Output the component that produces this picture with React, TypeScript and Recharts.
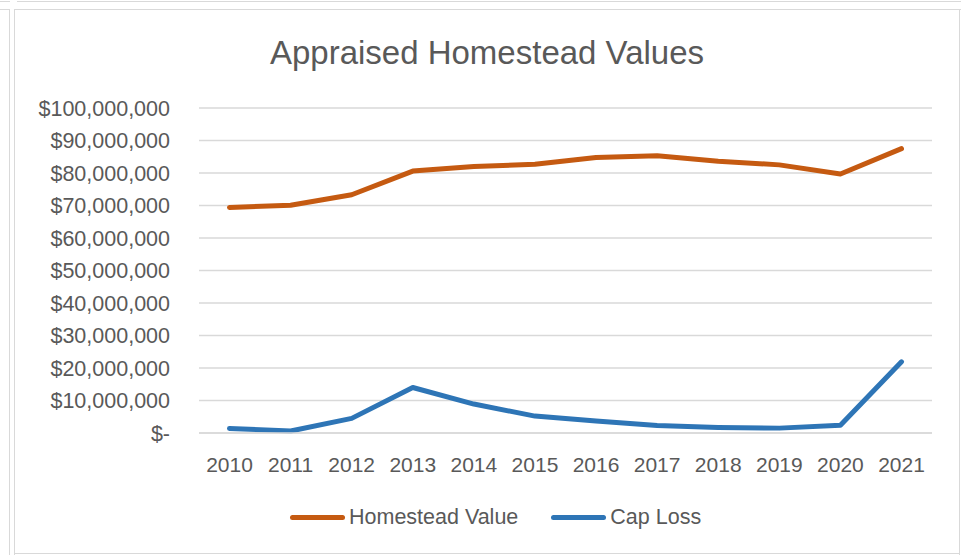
import {
  LineChart,
  Line,
  XAxis,
  YAxis,
  CartesianGrid,
} from "recharts"

const years = ["2010", "2011", "2012", "2013", "2014", "2015", "2016", "2017", "2018", "2019", "2020", "2021"]
const homesteadValue = [
  69400000, 70100000, 73300000, 80600000, 82000000, 82700000,
  84800000, 85300000, 83600000, 82500000, 79700000, 87500000,
]
const capLoss = [
  1400000, 600000, 4500000, 14000000, 8900000, 5200000,
  3700000, 2300000, 1700000, 1500000, 2400000, 21900000,
]
const yTicks = [0, 10000000, 20000000, 30000000, 40000000, 50000000, 60000000, 70000000, 80000000, 90000000, 100000000]

const series = [
  { key: "homestead", name: "Homestead Value", color: "#C55A11" },
  { key: "capLoss", name: "Cap Loss", color: "#2E75B6" },
]

const data = years.map((year, i) => ({
  year,
  homestead: homesteadValue[i],
  capLoss: capLoss[i],
}))

const FONT = "'Liberation Sans', Arial, sans-serif"
const TEXT = "#595959"
const BORDER = "#d9d9d9"

function formatMoney(v: number) {
  if (v === 0) return "$-"
  return "$" + v.toLocaleString("en-US")
}

function Rule({ x, y, w, h }: { x: number; y: number; w: number; h: number }) {
  return (
    <div
      style={{ position: "absolute", left: x, top: y, width: w, height: h, background: BORDER }}
    />
  )
}

export default function App() {
  return (
    <div
      style={{
        position: "absolute",
        left: 0,
        top: 0,
        width: 961,
        height: 555,
        background: "#fff",
        fontFamily: FONT,
        overflow: "hidden",
      }}
    >
      {/* surrounding sheet borders */}
      <Rule x={0} y={1} w={10} h={1} />
      <Rule x={17} y={1} w={944} h={1} />
      <Rule x={0} y={9} w={10} h={1} />
      <Rule x={9} y={9} w={1} h={546} />
      {/* chart frame */}
      <Rule x={14} y={9} w={947} h={1} />
      <Rule x={14} y={9} w={1} h={546} />
      <Rule x={959} y={9} w={1} h={546} />
      <Rule x={14} y={553} w={946} h={1} />

      <div
        style={{
          position: "absolute",
          left: 14,
          width: 946,
          top: 36,
          lineHeight: "33px",
          fontSize: 33,
          color: TEXT,
          textAlign: "center",
        }}
      >
        Appraised Homestead Values
      </div>

      <div style={{ position: "absolute", left: 0, top: 0 }}>
        <LineChart
          width={961}
          height={555}
          data={data}
          margin={{ top: 108, right: 29, bottom: 92, left: 0 }}
        >
          <CartesianGrid vertical={false} stroke={BORDER} strokeWidth={1.3} />
          <XAxis
            dataKey="year"
            height={30}
            padding={{ left: 30.5, right: 30.5 }}
            axisLine={{ stroke: BORDER, strokeWidth: 1.3 }}
            tickLine={false}
            tickSize={0}
            tickMargin={24}
            tick={{ fontSize: 21, fill: TEXT, fontFamily: FONT }}
            interval={0}
          />
          <YAxis
            width={199}
            domain={[0, 100000000]}
            ticks={yTicks}
            axisLine={false}
            tickLine={false}
            tickSize={0}
            tickMargin={29}
            tickFormatter={formatMoney}
            tick={{ fontSize: 21.5, fill: TEXT, fontFamily: FONT }}
            interval={0}
          />
          {series.map((s) => (
            <Line
              key={s.key}
              type="linear"
              dataKey={s.key}
              name={s.name}
              stroke={s.color}
              strokeWidth={5}
              strokeLinecap="round"
              strokeLinejoin="round"
              dot={false}
              activeDot={false}
              isAnimationActive={false}
            />
          ))}
        </LineChart>
      </div>

      <div
        style={{
          position: "absolute",
          left: 290,
          top: 506,
          height: 22,
          display: "flex",
          alignItems: "center",
          fontSize: 21.5,
          lineHeight: "22px",
          color: TEXT,
        }}
      >
        {series.map((s, i) => (
          <div
            key={s.key}
            style={{ display: "flex", alignItems: "center", marginLeft: i === 0 ? 0 : 33 }}
          >
            <div
              style={{ width: 55, height: 5, borderRadius: 3, background: s.color, marginRight: 4 }}
            />
            <span>{s.name}</span>
          </div>
        ))}
      </div>
    </div>
  )
}
